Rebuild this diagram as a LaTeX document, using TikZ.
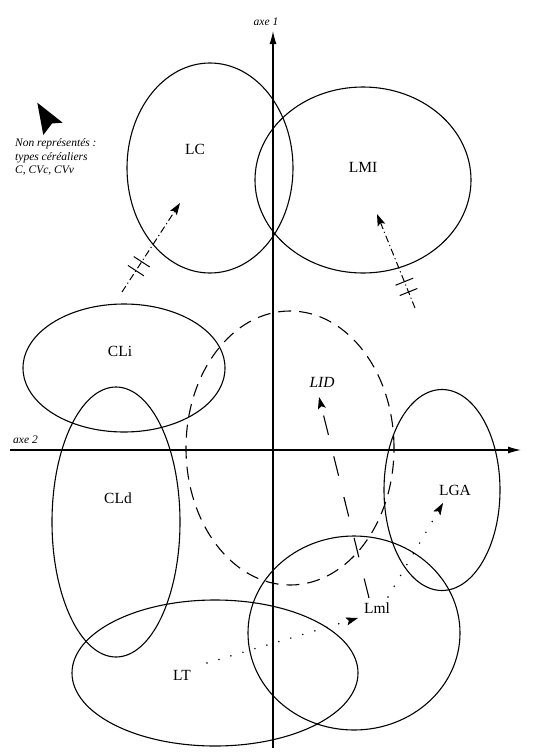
\documentclass[tikz,border=0pt]{standalone}
\usepackage{fontspec}
\setmainfont{Liberation Serif}
\usetikzlibrary{shapes.geometric,arrows.meta,decorations.markings}
\begin{document}
\begin{tikzpicture}[x=1pt,y=-1pt,
  ell/.style={draw, ellipse, line width=1.1pt, inner sep=0pt},
  dashell/.style={ell, dash pattern=on 13pt off 8pt},
  lab/.style={font=\fontsize{15.5}{17}\selectfont, inner sep=0pt},
  axislab/.style={font=\itshape\fontsize{11.5}{13}\selectfont, inner sep=0pt},
  axisline/.style={line width=1.2pt, -{Latex[length=13pt,width=7pt]}},
  dashdotarrow/.style={line width=1pt, dash pattern=on 7pt off 3pt on 1.2pt off 3pt,
     -{Stealth[length=12pt,width=8pt,inset=2.5pt]}},
  longdash/.style={line width=1.1pt, dash pattern=on 20pt off 22pt,
     -{Stealth[length=12pt,width=8pt,inset=2.5pt]}},
  dotarrow/.style={line width=1.7pt, line cap=round, dash pattern=on 0pt off 12.5pt,
     -{Stealth[length=12pt,width=8pt,inset=2.5pt,line width=0.5pt]}},
  ticks/.style 2 args={postaction={decorate}, decoration={markings,
     mark=at position #1 with {\draw[solid,-,line width=1pt] (0pt,-9.5pt) -- (0pt,9.5pt);},
     mark=at position #2 with {\draw[solid,-,line width=1pt] (0pt,-9.5pt) -- (0pt,9.5pt);}}}
]
\useasboundingbox (0,0) rectangle (535,755);

% axes
\coordinate (ybot) at (273,748);
\coordinate (ytop) at (273,31);
\coordinate (xl) at (10,450);
\coordinate (xr) at (521,450);
\draw[axisline] (ybot) -- (ytop);
\draw[axisline] (xl) -- (xr);
\node[axislab] (axe1) at (266,22) {axe 1};
\node[axislab] (axe2) at (25.5,440) {axe 2};

% ellipses
\node[ell, minimum width=166pt, minimum height=210pt] (LCe) at (210,168) {};
\node[ell, minimum width=216pt, minimum height=186pt] (LMIe) at (363,180) {};
\node[ell, minimum width=202pt, minimum height=128pt] (CLie) at (124,368) {};
\node[ell, minimum width=128pt, minimum height=270pt] (CLde) at (116,522) {};
\node[dashell, minimum width=208pt, minimum height=274pt] (LIDe) at (290,448) {};
\node[ell, minimum width=116pt, minimum height=201pt] (LGAe) at (442,490) {};
\node[ell, minimum width=212pt, minimum height=194pt] (Lmle) at (354,633) {};
\node[ell, minimum width=286pt, minimum height=146pt] (LTe) at (215,673) {};

% labels
\node[lab] (LC) at (195,149) {LC};
\node[lab] (LMI) at (363,167) {LMI};
\node[lab] (CLi) at (120,351) {CLi};
\node[lab] (CLd) at (118,498) {CLd};
\node[lab, font=\itshape\fontsize{15.5}{17}\selectfont] (LID) at (322,382) {LID};
\node[lab] (LGA) at (455,490) {LGA};
\node[lab] (Lml) at (377,608) {Lml};
\node[lab] (LT) at (182,675) {LT};

% note and cursor
\fill (37.3,102.7) -- (62.7,122.7) -- (52,123.5) -- (43.3,135) -- cycle;
\node[anchor=north west, align=left, inner sep=0pt,
  font=\itshape\fontsize{11.5}{13.5}\selectfont] (note) at (15,138.5)
  {Non représentés :\\types céréaliers\\C, CVc, CVv};

% arrows
\coordinate (a1s) at (122,292); \coordinate (a1e) at (180,203);
\coordinate (a2s) at (415,308); \coordinate (a2e) at (377,214);
\coordinate (a3s) at (369,598); \coordinate (a3e) at (319,397);
\coordinate (a4s) at (388,597); \coordinate (a4e) at (443,503);
\coordinate (a5s) at (207,663); \coordinate (a5e) at (358,618);
\draw[dashdotarrow, ticks={0.24}{0.34}] (a1s) -- (a1e);
\draw[dashdotarrow, ticks={0.17}{0.28}] (a2s) -- (a2e);
\draw[longdash] (a3s) -- (a3e);
\draw[dotarrow] (a4s) -- (a4e);
\draw[dotarrow] (a5s) -- (a5e);
\end{tikzpicture}
\end{document}
